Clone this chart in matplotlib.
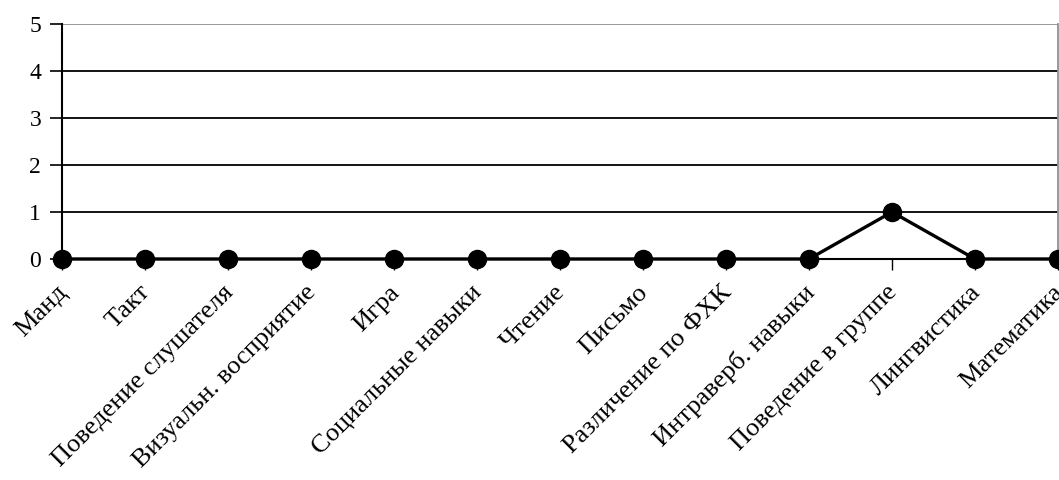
import matplotlib
matplotlib.use("Agg")
import matplotlib.pyplot as plt
from matplotlib.transforms import ScaledTranslation

categories = ["Манд", "Такт", "Поведение слушателя", "Визуальн. восприятие",
              "Игра", "Социальные навыки", "Чтение", "Письмо",
              "Различение по ФХК", "Интраверб. навыки", "Поведение в группе",
              "Лингвистика", "Математика"]
values = [0, 0, 0, 0, 0, 0, 0, 0, 0, 0, 1, 0, 0]
yticks = [0, 1, 2, 3, 4, 5]

plt.rcParams['font.family'] = ['Liberation Serif', 'DejaVu Serif']

fig = plt.figure(figsize=(10.59, 4.8), dpi=100)
ax = fig.add_axes([62/1059, 1 - 259/480, (1058 - 62)/1059, (259 - 24)/480])

x = list(range(len(categories)))
ax.plot(x, values, color='black', linewidth=2.4, marker='o', markersize=13,
        clip_on=False, zorder=5)

ax.set_xlim(0, len(categories) - 1)
ax.set_ylim(0, 5)
ax.set_yticks(yticks)
ax.set_yticklabels([str(v) for v in yticks], fontsize=17)
ax.set_xticks(x)
ax.set_xticklabels(categories, rotation=45, ha='right', rotation_mode='anchor',
                   fontsize=19)
ax.tick_params(axis='y', direction='out', length=9, width=1.2, pad=6)
ax.tick_params(axis='x', direction='out', length=8, width=1.0, pad=8)

# shift the slanted labels a bit to the left, like the original
offset = ScaledTranslation(-6/100, 0, fig.dpi_scale_trans)
for lbl in ax.get_xticklabels():
    lbl.set_transform(lbl.get_transform() + offset)

for v in yticks[1:-1]:
    ax.axhline(v, color='black', linewidth=1.3, zorder=1)
ax.axhline(5, color='#909090', linewidth=1.3, zorder=1)

ax.spines['left'].set_color('black')
ax.spines['left'].set_linewidth(1.5)
ax.spines['bottom'].set_color('black')
ax.spines['bottom'].set_linewidth(1.5)
ax.spines['top'].set_visible(False)
ax.spines['right'].set_color('#909090')
ax.spines['right'].set_linewidth(1.3)

fig.savefig("out.png", dpi=100)
